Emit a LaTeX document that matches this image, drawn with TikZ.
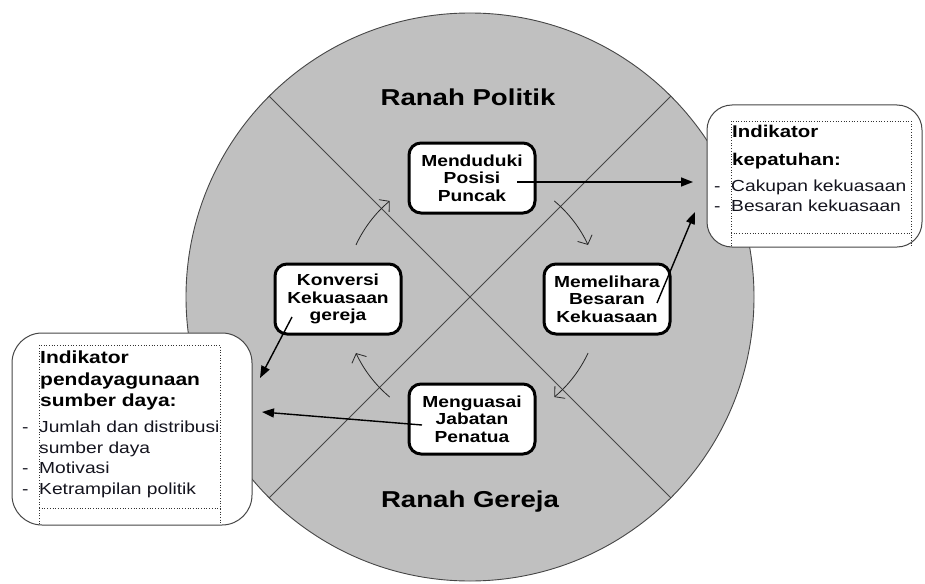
\documentclass[tikz,border=0pt]{standalone}
\usepackage{fontspec}
\setmainfont{Liberation Sans}
\newfontfamily\af[FakeStretch=1.2]{Liberation Sans}
\usetikzlibrary{arrows.meta,calc}
\definecolor{circfill}{RGB}{192,192,192}
\definecolor{circline}{RGB}{70,70,70}
\definecolor{txt}{RGB}{20,20,30}
\begin{document}
\begin{tikzpicture}[x=1pt,y=-1pt,
  stage/.style={draw=black, line width=3pt, fill=white, rounded corners=12pt,
    minimum width=126pt, minimum height=70pt, align=center, inner sep=0pt,
    font=\af\fontsize{16}{17.5}\selectfont\bfseries},
  realm/.style={inner sep=0pt, font=\af\fontsize{23}{26}\selectfont\bfseries},
  callout/.style={draw=circline, line width=1pt, fill=white, inner sep=0pt},
  frame/.style={dotted, line width=0.7pt, draw=black!80},
  boldline/.style={anchor=base west, inner sep=0pt, text=black},
  plainline/.style={anchor=base west, inner sep=0pt, text=txt},
  link/.style={line width=1.4pt, -{Triangle[length=12pt,width=9pt]}},
  cycle arrow/.style={line width=0.8pt, draw=black!85, -{Straight Barb[length=7pt,width=16pt,line width=0.8pt]}}
]
\useasboundingbox (0,0) rectangle (925,583);

% circle and cross
\coordinate (cc) at (470,297);
\draw[fill=circfill, draw=circline, line width=0.9pt] (cc) circle[radius=284];
\coordinate (ul) at ($(cc)+(-135:284)$);
\coordinate (ur) at ($(cc)+(-45:284)$);
\coordinate (ll) at ($(cc)+(135:284)$);
\coordinate (lr) at ($(cc)+(45:284)$);
\draw[circline, line width=0.8pt] (ul) -- (lr);
\draw[circline, line width=0.8pt] (ur) -- (ll);

% realm labels
\node[realm] (rp) at (468,97) {Ranah Politik};
\node[realm] (rg) at (470,502) {Ranah Gereja};

% stage boxes
\node[stage] (top) at (472,178) {Menduduki\\Posisi\\Puncak};
\node[stage] (left) at (338,299) {Konversi\\Kekuasaan\\gereja};
\node[stage] (right) at (607,299) {Memelihara\\Besaran\\Kekuasaan};
\node[stage] (bot) at (472,419) {Menguasai\\Jabatan\\Penatua};

% cycle arrows
\coordinate (cyc) at (472,299);
\draw[cycle arrow] ($(cyc)+(-155:128)$) arc[start angle=-155, end angle=-130, radius=128];
\draw[cycle arrow] ($(cyc)+(-50:128)$) arc[start angle=-50, end angle=-25, radius=128];
\draw[cycle arrow] ($(cyc)+(25:128)$) arc[start angle=25, end angle=50, radius=128];
\draw[cycle arrow] ($(cyc)+(130:128)$) arc[start angle=130, end angle=155, radius=128];

% right callout
\node[callout, rounded corners=25pt, minimum width=215pt, minimum height=142pt] (rbox) at (814.5,176) {};
\draw[frame] (731,246) -- (731,121) -- (911,121) -- (911,246);
\draw[frame] (731,233) -- (911,233);
\node[boldline, font=\af\fontsize{17}{20}\selectfont\bfseries] (r1) at (732,137) {Indikator};
\node[boldline, font=\af\fontsize{17}{20}\selectfont\bfseries] (r2) at (732,165) {kepatuhan:};
\node[plainline, font=\af\fontsize{16}{19}\selectfont] (r3d) at (714,191) {-};
\node[plainline, font=\af\fontsize{16}{19}\selectfont] (r3) at (731,191) {Cakupan kekuasaan};
\node[plainline, font=\af\fontsize{16}{19}\selectfont] (r4d) at (714,211) {-};
\node[plainline, font=\af\fontsize{16}{19}\selectfont] (r4) at (731,211) {Besaran kekuasaan};

% left callout
\node[callout, rounded corners=30pt, minimum width=240pt, minimum height=192pt] (lbox) at (132,429) {};
\draw[frame] (39,524) -- (39,345) -- (220,345) -- (220,524);
\draw[frame] (39,508) -- (220,508);
\node[boldline, font=\af\fontsize{17.5}{20}\selectfont\bfseries] (l1) at (40,363) {Indikator};
\node[boldline, font=\af\fontsize{17.5}{20}\selectfont\bfseries] (l2) at (40,385) {pendayagunaan};
\node[boldline, font=\af\fontsize{17.5}{20}\selectfont\bfseries] (l3) at (40,406) {sumber daya:};
\node[plainline, font=\af\fontsize{16}{19}\selectfont] (l4d) at (22,432) {-};
\node[plainline, font=\af\fontsize{16}{19}\selectfont] (l4) at (39,432) {Jumlah dan distribusi};
\node[plainline, font=\af\fontsize{16}{19}\selectfont] (l5) at (39,453) {sumber daya};
\node[plainline, font=\af\fontsize{16}{19}\selectfont] (l6d) at (22,473) {-};
\node[plainline, font=\af\fontsize{16}{19}\selectfont] (l6) at (39,473) {Motivasi};
\node[plainline, font=\af\fontsize{16}{19}\selectfont] (l7d) at (22,494) {-};
\node[plainline, font=\af\fontsize{16}{19}\selectfont] (l7) at (39,494) {Ketrampilan politik};

% links to indicators
\coordinate (a1s) at (517,182);
\coordinate (a1e) at (693,182);
\coordinate (a2s) at (657,303);
\coordinate (a2e) at (695,212);
\coordinate (a3s) at (292,317);
\coordinate (a3e) at (260,378);
\coordinate (a4s) at (422,425);
\coordinate (a4e) at (262,412);
\draw[link] (a1s) -- (a1e);
\draw[link] (a2s) -- (a2e);
\draw[link] (a3s) -- (a3e);
\draw[link] (a4s) -- (a4e);
\end{tikzpicture}
\end{document}
